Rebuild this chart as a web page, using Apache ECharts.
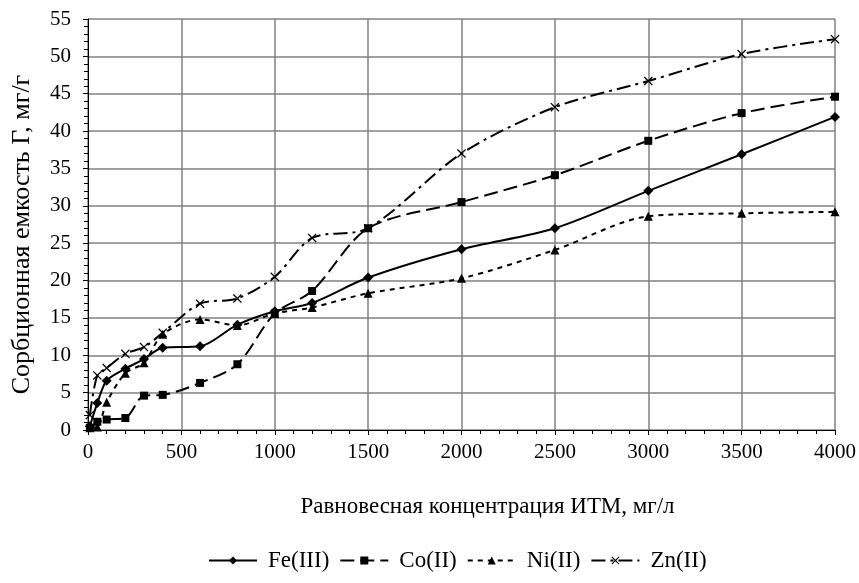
<!DOCTYPE html>
<html>
<head>
<meta charset="utf-8">
<script src="https://cdn.jsdelivr.net/npm/echarts@6/dist/echarts.min.js"></script>
<style>
  html, body { margin: 0; padding: 0; background: #fff; }
  #chart { width: 859px; height: 583px; }
</style>
</head>
<body>
<div id="chart"></div>
<script>
// концентрации, мг/л
var conc = [10, 50, 100, 200, 300, 400, 600, 800, 1000, 1200, 1500, 2000, 2500, 3000, 3500, 4000];
var fe = [0.5, 3.6, 6.6, 8.2, 9.5, 11.0, 11.2, 14.1, 15.9, 17.0, 20.4, 24.2, 27.0, 32.0, 36.9, 41.9];
var co = [0.3, 1.1, 1.4, 1.6, 4.6, 4.7, 6.3, 8.8, 15.6, 18.6, 27.0, 30.5, 34.1, 38.7, 42.4, 44.6];
var ni = [0.3, 0.4, 3.7, 7.6, 9.0, 12.8, 14.8, 14.0, 15.6, 16.4, 18.3, 20.3, 24.1, 28.6, 29.0, 29.2];
var zn = [2.0, 7.3, 8.3, 10.2, 11.1, 13.0, 16.9, 17.6, 20.5, 25.7, 27.0, 37.0, 43.2, 46.7, 50.3, 52.3];
var names = ['Fe(III)', 'Co(II)', 'Ni(II)', 'Zn(II)'];

function pairs(ys) {
    return conc.map(function (x, i) { return [x, ys[i]]; });
}

var cross = 'path://M0,1 L1,0 L5,4 L9,0 L10,1 L6,5 L10,9 L9,10 L5,6 L1,10 L0,9 L4,5 Z';
var font = '"Liberation Serif", "Times New Roman", serif';

var myChart = echarts.init(document.getElementById('chart'));

function line(name, ys, symbol, size, dash) {
    return {
        name: name,
        type: 'line',
        data: pairs(ys),
        smooth: 0.3,
        symbol: symbol,
        symbolSize: size,
        color: '#000',
        itemStyle: { color: '#000' },
        lineStyle: { color: '#000', width: 2, type: dash },
        emphasis: { disabled: true },
        animation: false
    };
}

option = {
    animation: false,
    textStyle: { fontFamily: font },
    grid: { left: 88, right: 23, top: 19, bottom: 153 },
    legend: {
        bottom: 6,
        left: 203,
        itemWidth: 48,
        itemHeight: 10,
        itemGap: 10,
        textStyle: { fontFamily: font, fontSize: 23, color: '#000', padding: [0, 0, 0, 6] },
        data: names
    },
    xAxis: {
        type: 'value',
        min: 0, max: 4000, interval: 500,
        name: 'Равновесная концентрация ИТМ, мг/л',
        nameLocation: 'middle',
        nameGap: 65,
        nameTextStyle: { fontFamily: font, fontSize: 23, color: '#000', padding: [0, 0, 0, 52] },
        axisLine: { lineStyle: { color: '#000', width: 1 } },
        axisTick: { show: true, length: 5, lineStyle: { color: '#000' } },
        minorTick: { show: true, splitNumber: 5, length: 4, lineStyle: { color: '#000' } },
        axisLabel: { fontFamily: font, fontSize: 21, color: '#000', margin: 12, formatter: function (v) { return String(v); } },
        splitLine: { show: true, lineStyle: { color: '#808080', width: 1.5 } }
    },
    yAxis: {
        type: 'value',
        min: 0, max: 55, interval: 5,
        name: 'Сорбционная емкость Г, мг/г',
        nameLocation: 'middle',
        nameGap: 53,
        nameTextStyle: { fontFamily: font, fontSize: 26, color: '#000', padding: [0, 20, 0, 0] },
        axisLine: { show: true, lineStyle: { color: '#000', width: 1 } },
        axisTick: { show: true, length: 5, lineStyle: { color: '#000' } },
        minorTick: { show: true, splitNumber: 5, length: 4, lineStyle: { color: '#000' } },
        axisLabel: { fontFamily: font, fontSize: 21, color: '#000', margin: 17 },
        splitLine: { show: true, lineStyle: { color: '#808080', width: 1.5 } }
    },
    series: [
        line(names[0], fe, 'diamond', 10, 'solid'),
        line(names[1], co, 'rect', 8, [14, 6]),
        line(names[2], ni, 'triangle', 9, [5, 5]),
        line(names[3], zn, cross, 9, [14, 5, 3, 5])
    ]
};

if (option && typeof option === "object") {
    myChart.setOption(option, true);
}

window.addEventListener("resize", function () {
    myChart.resize();
});
</script>
</body>
</html>
